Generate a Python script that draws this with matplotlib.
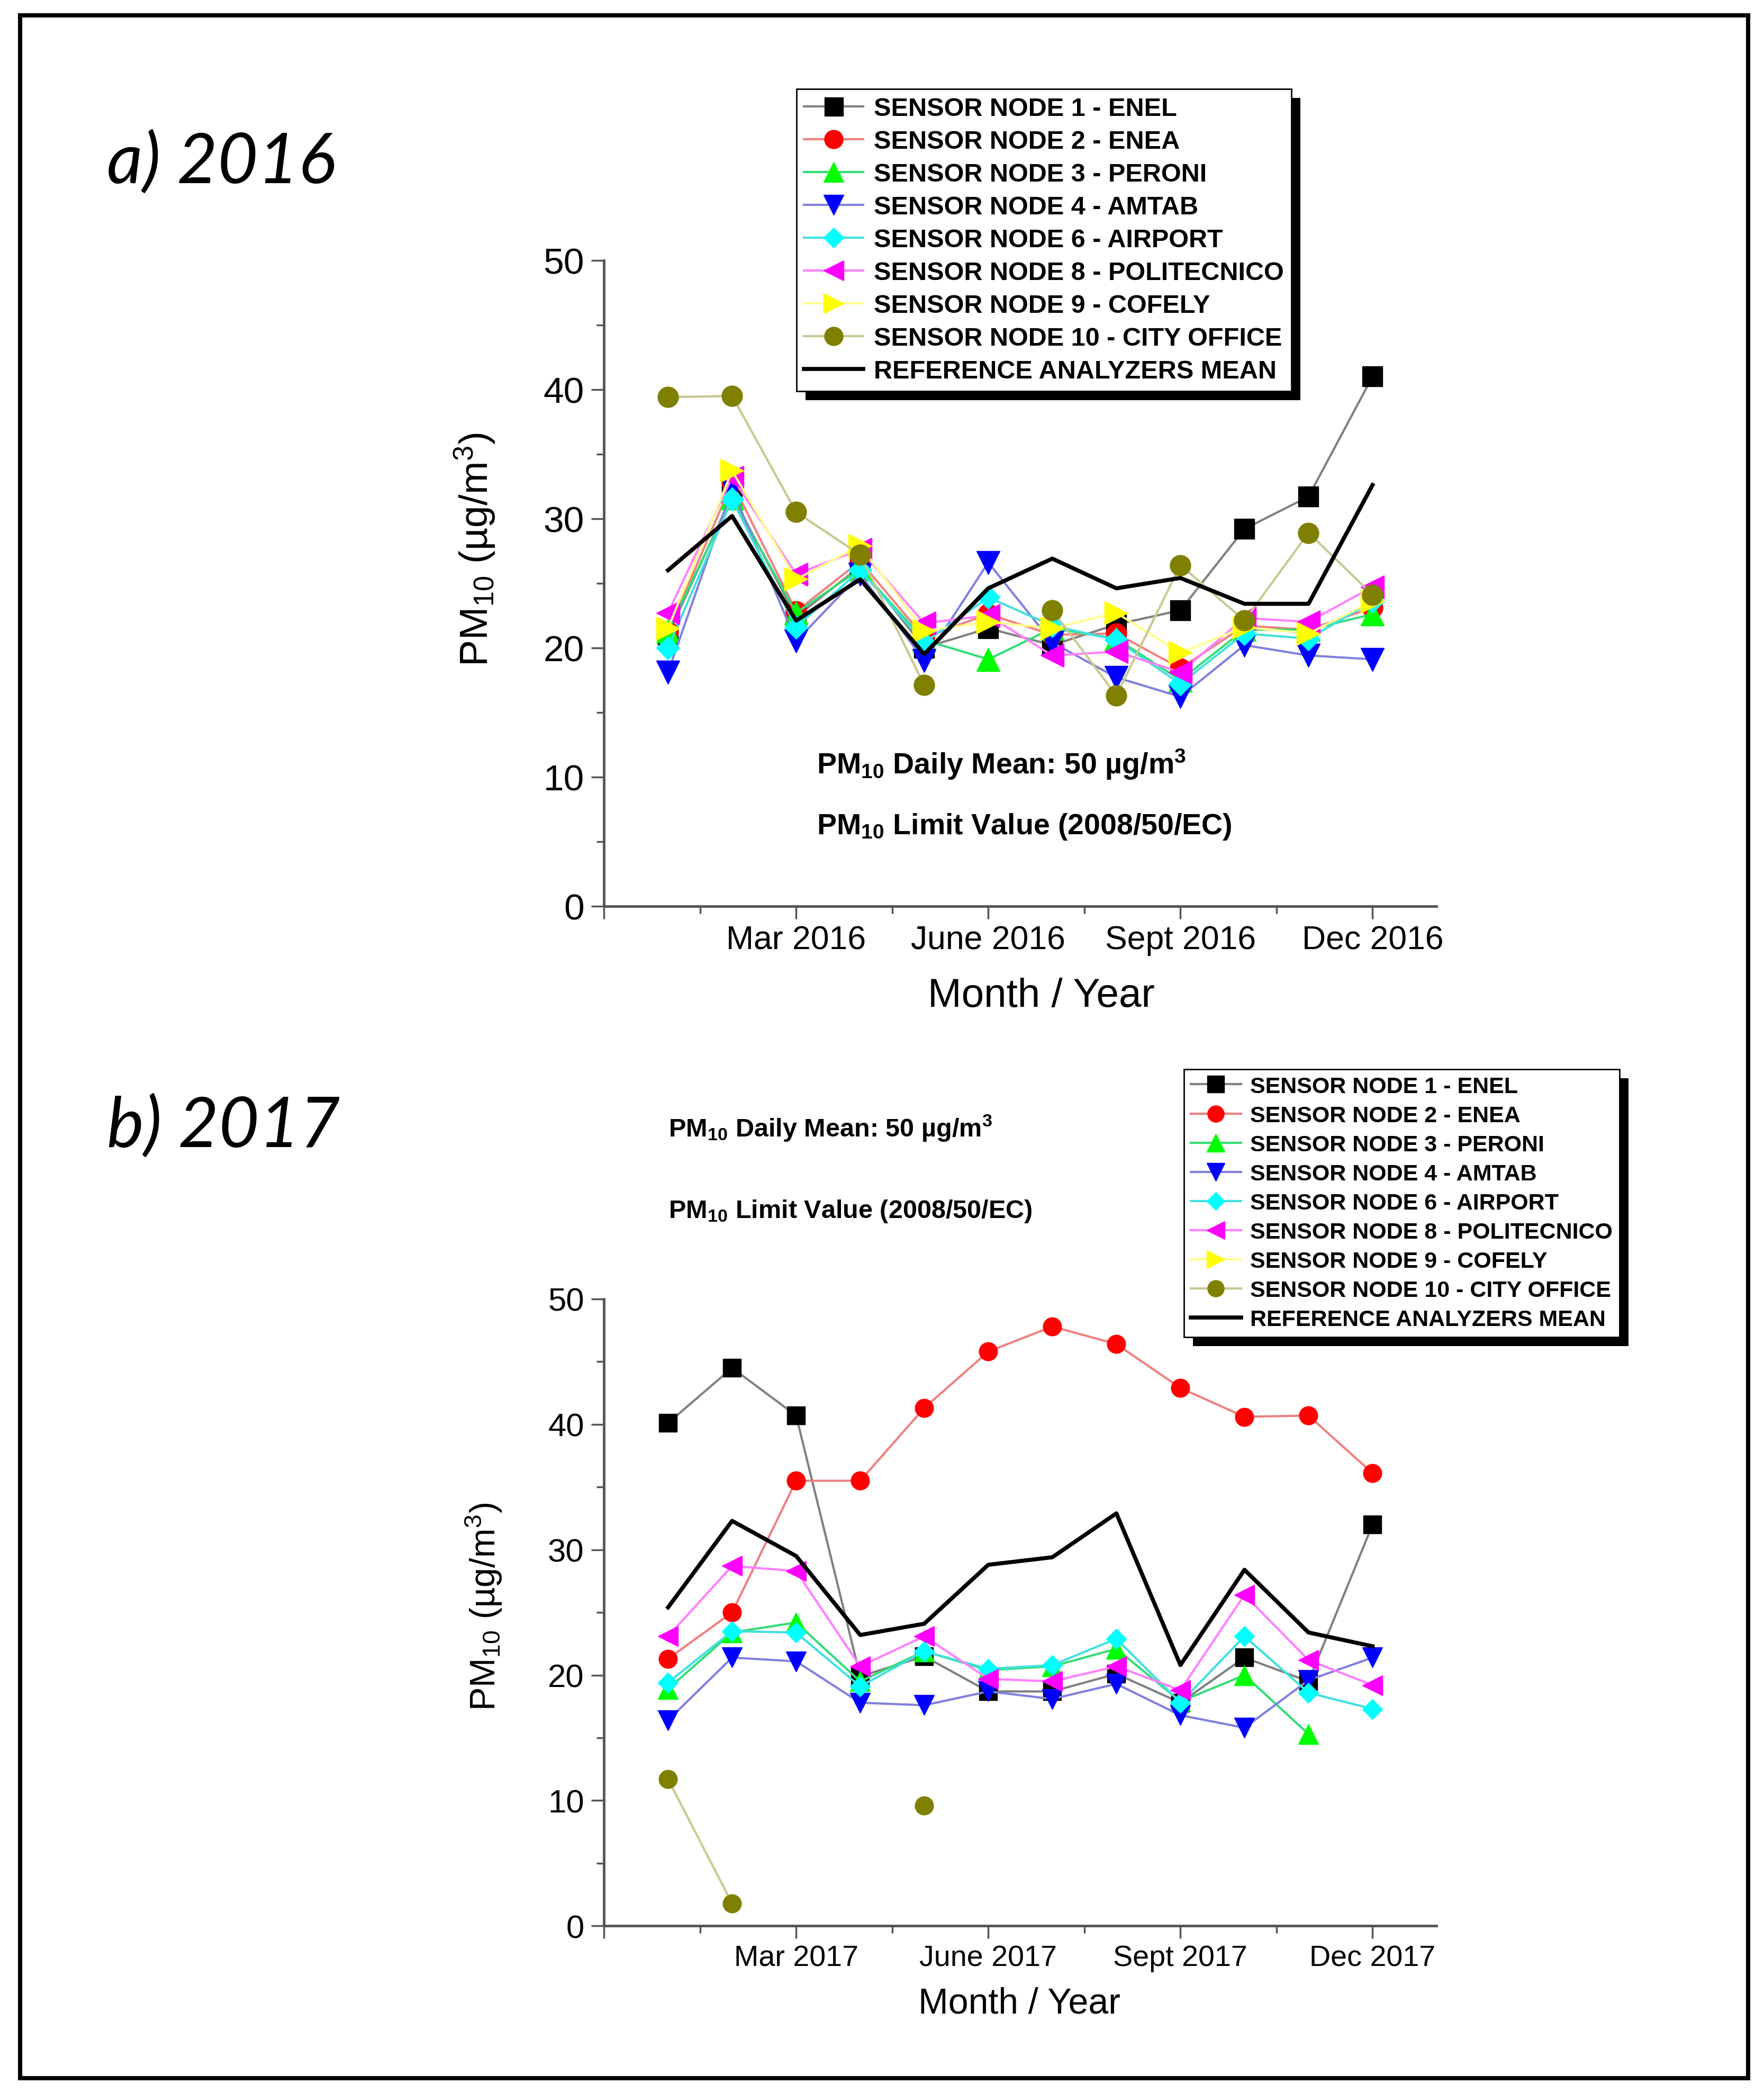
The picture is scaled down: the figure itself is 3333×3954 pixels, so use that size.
import numpy as np
import matplotlib
matplotlib.use("Agg")
import matplotlib.pyplot as plt
from matplotlib.patches import Rectangle
from matplotlib.transforms import IdentityTransform

plt.rcParams['font.family'] = 'Liberation Sans'
plt.rcParams['mathtext.fontset'] = 'custom'
plt.rcParams['mathtext.rm'] = 'Liberation Sans'
plt.rcParams['mathtext.it'] = 'Liberation Sans:italic'
plt.rcParams['mathtext.bf'] = 'Liberation Sans:bold'

nan = np.nan
months = np.arange(1, 13)

# ---- 2016 monthly means (ug/m3) ----
enel_2016 = [21.0, 31.8, 22.4, 26.3, 20.0, 21.5, 20.2, 21.8, 22.9, 29.2, 31.7, 41.0]
enea_2016 = [21.2, 32.8, 22.8, 26.7, 20.8, 22.6, 21.0, 21.1, 18.4, 21.7, 21.4, 23.1]
peroni_2016 = [21.3, 31.6, 22.7, 26.1, 20.6, 19.1, 21.5, 20.7, 17.5, 21.4, 21.4, 22.6]
amtab_2016 = [18.1, 32.3, 20.5, 25.7, 19.0, 26.6, 20.4, 17.7, 16.2, 20.2, 19.4, 19.1]
airport_2016 = [20.0, 31.5, 21.6, 26.0, 20.4, 23.9, 21.7, 20.6, 17.2, 21.1, 20.7, 23.6]
poli_2016 = [22.7, 33.2, 25.7, 27.6, 21.9, 22.5, 19.4, 19.7, 18.1, 22.3, 22.0, 24.7]
cofely_2016 = [21.5, 33.7, 25.3, 27.9, 21.3, 22.0, 21.5, 22.7, 19.6, 21.6, 21.1, 23.6]
city_2016 = [39.4, 39.5, 30.5, 27.2, 17.1, nan, 22.9, 16.3, 26.4, 22.1, 28.9, 24.1]
ref_2016 = [26.0, 30.2, 22.1, 25.3, 19.5, 24.6, 26.9, 24.6, 25.4, 23.4, 23.4, 32.6]

# ---- 2017 monthly means (ug/m3) ----
enel_2017 = [40.1, 44.5, 40.7, 19.9, 21.5, 18.7, 18.7, 20.1, 17.8, 21.4, 19.5, 32.0]
enea_2017 = [21.3, 25.0, 35.5, 35.5, 41.3, 45.8, 47.8, 46.4, 42.9, 40.6, 40.7, 36.1]
peroni_2017 = [18.9, 23.4, 24.2, 19.5, 21.9, 20.4, 20.7, 22.1, 17.9, 20.0, 15.3, nan]
amtab_2017 = [16.4, 21.4, 21.1, 17.8, 17.6, 18.7, 18.1, 19.3, 16.8, 15.8, 19.6, 21.4]
airport_2017 = [19.4, 23.5, 23.4, 19.1, 21.9, 20.5, 20.8, 22.9, 17.8, 23.1, 18.6, 17.3]
poli_2017 = [23.1, 28.7, 28.3, 20.7, 23.1, 19.7, 19.5, 20.7, 18.8, 26.4, 21.2, 19.2]
cofely_2017 = [nan] * 12
city_2017 = [11.7, 1.8, nan, nan, 9.6, nan, nan, nan, nan, nan, nan, nan]
ref_2017 = [25.4, 32.3, 29.5, 23.2, 24.1, 28.8, 29.4, 32.9, 20.8, 28.4, 23.4, 22.3]

labels = ["SENSOR NODE 1 - ENEL", "SENSOR NODE 2 - ENEA", "SENSOR NODE 3 - PERONI",
          "SENSOR NODE 4 - AMTAB", "SENSOR NODE 6 - AIRPORT", "SENSOR NODE 8 - POLITECNICO",
          "SENSOR NODE 9 - COFELY", "SENSOR NODE 10 - CITY OFFICE"]
markers = ['s', 'o', '^', 'v', 'D', '<', '>', 'o']
marker_colors = ['#000000', '#ff0000', '#00ff00', '#0000ff', '#00ffff', '#ff00ff', '#ffff00', '#808000']
line_colors = ['#808080', '#f08080', '#33dd77', '#8080e0', '#40e0e0', '#ff80ff', '#ffff90', '#c8c890']
marker_sizes = [28, 28, 31, 31, 22, 31, 31, 28]

AXIS_GREY = '#555555'

fig = plt.figure(figsize=(33.33, 39.55), dpi=100)


def draw_panel(ax, series, ref_mean, year, sc):
    handles = []
    for vals, lab, mk, mc, lc, ms in zip(series, labels, markers, marker_colors,
                                         line_colors, marker_sizes):
        h, = ax.plot(months, vals, color=lc, lw=3, marker=mk, ms=ms * sc,
                     mfc=mc, mec=mc, label=lab, clip_on=False)
        handles.append(h)
    h, = ax.plot(months, ref_mean, color='black', lw=5.5, label='REFERENCE ANALYZERS MEAN')
    handles.append(h)

    ax.set_xlim(0, 13)
    ax.set_ylim(0, 50)
    ax.set_xticks([0, 3, 6, 9, 12])
    ax.set_xticklabels(['', f'Mar {year}', f'June {year}', f'Sept {year}', f'Dec {year}'])
    ax.set_xticks([1.5, 4.5, 7.5, 10.5], minor=True)
    ax.set_yticks(range(0, 51, 10))
    ax.set_yticks(range(5, 50, 10), minor=True)
    for side in ['top', 'right']:
        ax.spines[side].set_visible(False)
    for side in ['left', 'bottom']:
        ax.spines[side].set_color(AXIS_GREY)
        ax.spines[side].set_linewidth(3.5)
    ax.tick_params(which='major', direction='out', length=17, width=2.5, color=AXIS_GREY)
    ax.tick_params(which='minor', direction='out', length=10, width=2.5, color=AXIS_GREY)
    ax.tick_params(axis='x', labelsize=45 * sc, pad=8)
    ax.tick_params(axis='y', labelsize=50 * sc, pad=10)
    ax.set_facecolor('none')
    ax.set_xlabel('Month / Year', fontsize=55 * sc)
    ax.set_ylabel(r'PM$_{10}$ (µg/m$^{3}$)', fontsize=54 * sc)
    return handles


def add_legend(handles, anchor, size, spacing, hlen, mscale):
    leg = fig.legend(handles=handles, loc='upper left', bbox_to_anchor=anchor,
                     frameon=True, fancybox=False, edgecolor='black', framealpha=1,
                     prop={'weight': 'bold', 'size': size}, handlelength=hlen,
                     handletextpad=0.4, borderpad=0.3, labelspacing=spacing,
                     markerscale=mscale, borderaxespad=0)
    leg.get_frame().set_linewidth(2)
    leg.set_zorder(10)
    return leg


# a) 2016
ax1 = fig.add_axes([0.3424, 0.5670, 0.4720, 0.3084])
h1 = draw_panel(ax1, [enel_2016, enea_2016, peroni_2016, amtab_2016, airport_2016,
                      poli_2016, cofely_2016, city_2016], ref_2016, 2016, 1.0)
ax1.xaxis.set_label_coords(0.525, -0.110)
ax1.yaxis.set_label_coords(-0.128, 0.553)
leg1 = add_legend(h1, (0.4515, 0.9572), 35, 0.35, 2.3, 0.9)

# b) 2017
ax2 = fig.add_axes([0.3424, 0.0798, 0.4720, 0.2995])
h2 = draw_panel(ax2, [enel_2017, enea_2017, peroni_2017, amtab_2017, airport_2017,
                      poli_2017, cofely_2017, city_2017], ref_2017, 2017, 0.89)
ax2.xaxis.set_label_coords(0.499, -0.096)
ax2.yaxis.set_label_coords(-0.120, 0.51)
leg2 = add_legend(h2, (0.6712, 0.4891), 31, 0.35, 2.2, 0.9)

# panel titles
fig.text(0.0606, 0.9125, 'a) 2016', fontsize=95, style='italic', family='Lato', va='baseline')
fig.text(0.0606, 0.4521, 'b) 2017', fontsize=95, style='italic', family='Lato', va='baseline')

# limit value notes
fig.text(0.4629, 0.6303, r'PM$_{\mathbf{10}}$ Daily Mean: 50 µg/m$^{\mathbf{3}}$',
         fontsize=40, fontweight='bold', va='baseline')
fig.text(0.4629, 0.6015, r'PM$_{\mathbf{10}}$ Limit Value (2008/50/EC)',
         fontsize=40, fontweight='bold', va='baseline')
fig.text(0.3788, 0.4572, r'PM$_{\mathbf{10}}$ Daily Mean: 50 µg/m$^{\mathbf{3}}$',
         fontsize=35, fontweight='bold', va='baseline')
fig.text(0.3788, 0.4183, r'PM$_{\mathbf{10}}$ Limit Value (2008/50/EC)',
         fontsize=35, fontweight='bold', va='baseline')

# outer frame
fig.add_artist(Rectangle((0.0114, 0.0070), 0.9795, 0.9853, transform=fig.transFigure,
                         fill=False, lw=5.8, ec='black'))

# legend drop shadows
fig.canvas.draw()
for leg in (leg1, leg2):
    bb = leg.get_window_extent()
    fig.add_artist(Rectangle((bb.x0 + 17, bb.y0 - 17), bb.width, bb.height,
                             transform=IdentityTransform(), facecolor='black',
                             edgecolor='none', zorder=9))

fig.savefig('out.png', dpi=100, facecolor='white')
